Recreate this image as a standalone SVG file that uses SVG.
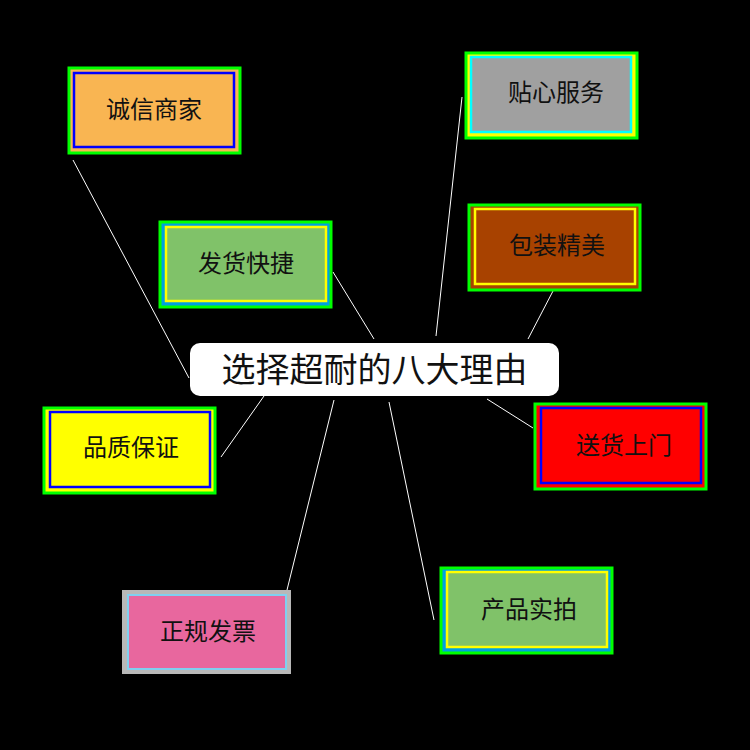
<svg xmlns="http://www.w3.org/2000/svg" width="750" height="750" viewBox="0 0 750 750">
<style>
.o{stroke:#00ff00;stroke-width:3}
.i{stroke-width:2.5}
.t{font-family:"Liberation Serif","Noto Sans CJK SC",serif;font-size:24px;fill:#111;text-anchor:middle;dominant-baseline:central}
.c line{stroke:#ffffff;stroke-width:1}
</style>
<rect width="750" height="750" fill="#000"/>
<g class="c">
<line x1="73" y1="160" x2="189" y2="378"/>
<line x1="333" y1="272" x2="374" y2="339"/>
<line x1="436" y1="336" x2="462" y2="97"/>
<line x1="528" y1="339" x2="553" y2="291"/>
<line x1="221" y1="457" x2="264" y2="396"/>
<line x1="287" y1="590" x2="334" y2="400"/>
<line x1="389" y1="402" x2="434" y2="620"/>
<line x1="487" y1="399" x2="533" y2="428"/>
</g>
<g id="center"><rect x="190" y="343" width="369" height="53" rx="10" fill="#fff"/><text x="374.5" y="370" class="t" style="font-size:34px">选择超耐的八大理由</text></g>
<g id="n1"><rect class="o" x="69" y="68" width="171" height="85" fill="#f9b552"/><rect class="i" x="74" y="73" width="160" height="74" fill="none" stroke="#0000ff"/><text class="t" x="154" y="110">诚信商家</text></g>
<g id="n2"><rect class="o" x="160" y="222" width="171" height="85" fill="#00a0e0"/><rect class="i" x="166" y="227" width="160" height="74" fill="#80c269" stroke="#ffff00"/><text class="t" x="246" y="264">发货快捷</text></g>
<g id="n3"><rect class="o" x="466" y="53" width="171" height="85" fill="#ffff00"/><rect class="i" x="471" y="57" width="160" height="75" fill="#a0a0a0" stroke="#00ffff"/><text class="t" x="556" y="93">贴心服务</text></g>
<g id="n4"><rect class="o" x="469" y="205" width="171" height="85" fill="#a84200"/><rect class="i" x="475" y="209" width="160" height="75" fill="none" stroke="#ffff00"/><text class="t" x="557" y="246">包装精美</text></g>
<g id="n5"><rect class="o" x="44" y="408" width="171" height="85" fill="#ffff00"/><rect class="i" x="50" y="412" width="160" height="75" fill="none" stroke="#0000ff"/><text class="t" x="131" y="448">品质保证</text></g>
<g id="n6"><rect x="122" y="590" width="169" height="84" fill="#b8b8b8"/><rect x="128" y="595" width="158" height="74" fill="#e8679e" stroke="#80d0f0" stroke-width="2"/><text class="t" x="208" y="632">正规发票</text></g>
<g id="n7"><rect class="o" x="535" y="404" width="171" height="85" fill="#ff0000"/><rect class="i" x="541" y="408" width="160" height="75" fill="none" stroke="#0000ff"/><text class="t" x="624" y="446">送货上门</text></g>
<g id="n8"><rect class="o" x="441" y="568" width="171" height="85" fill="#00a0e0"/><rect class="i" x="447" y="572" width="160" height="75" fill="#80c269" stroke="#ffff00"/><text class="t" x="529" y="610">产品实拍</text></g>
</svg>
